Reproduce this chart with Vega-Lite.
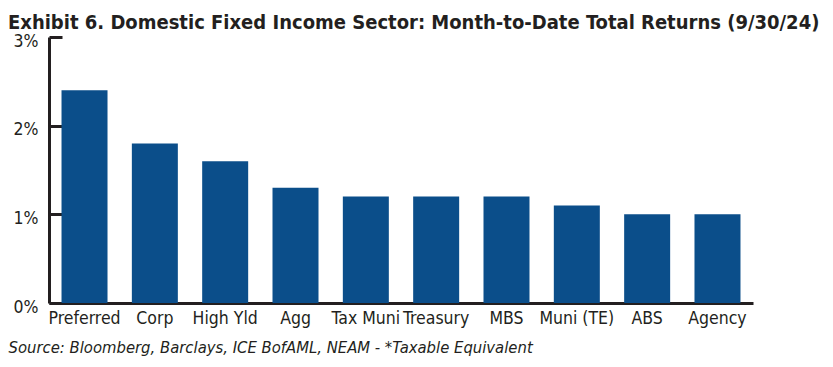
{
  "$schema": "https://vega.github.io/schema/vega-lite/v6.json",
  "autosize": {"type": "none"},
  "padding": {"left": 49, "top": 37, "right": 80, "bottom": 64},
  "width": 704,
  "height": 266,
  "background": "white",
  "title": {
    "text": "Exhibit 6. Domestic Fixed Income Sector: Month-to-Date Total Returns (9/30/24)",
    "anchor": "start",
    "frame": "group",
    "dx": -41,
    "dy": 17,
    "baseline": "alphabetic",
    "offset": 0,
    "font": "DejaVu Sans Condensed, sans-serif",
    "fontSize": 20,
    "fontWeight": "bold",
    "color": "#231f20"
  },
  "data": {
    "values": [
      {"sector": "Preferred", "ret": 2.4},
      {"sector": "Corp", "ret": 1.8},
      {"sector": "High Yld", "ret": 1.6},
      {"sector": "Agg", "ret": 1.3},
      {"sector": "Tax Muni", "ret": 1.2},
      {"sector": "Treasury", "ret": 1.2},
      {"sector": "MBS", "ret": 1.2},
      {"sector": "Muni (TE)", "ret": 1.1},
      {"sector": "ABS", "ret": 1.0},
      {"sector": "Agency", "ret": 1.0}
    ]
  },
  "config": {
    "view": {"stroke": null},
    "axis": {
      "labelFont": "DejaVu Sans Condensed, sans-serif",
      "labelColor": "#231f20",
      "domainColor": "#231f20",
      "tickColor": "#231f20",
      "grid": false
    }
  },
  "mark": {"type": "bar", "color": "#0b4e8a"},
  "encoding": {
    "x": {
      "field": "sector",
      "type": "nominal",
      "sort": null,
      "scale": {"paddingInner": 0.346, "paddingOuter": 0.178},
      "axis": {
        "labelAngle": 0,
        "labelFontSize": 17.5,
        "labelPadding": 6,
        "ticks": false,
        "domainWidth": 3,
        "title": "Source: Bloomberg, Barclays, ICE BofAML, NEAM - *Taxable Equivalent",
        "titleFont": "DejaVu Sans Condensed, sans-serif",
        "titleFontStyle": "italic",
        "titleFontWeight": "normal",
        "titleFontSize": 16.5,
        "titleColor": "#231f20",
        "titleAnchor": "start",
        "titleAlign": "left",
        "titleBaseline": "alphabetic",
        "titleX": -41,
        "titleY": 49
      }
    },
    "y": {
      "field": "ret",
      "type": "quantitative",
      "scale": {"domain": [0, 3], "nice": false},
      "axis": {
        "title": null,
        "values": [0, 1, 2, 3],
        "labelExpr": "datum.value + '%'",
        "labelFontSize": 17.5,
        "labelOffset": 4,
        "tickSize": -13,
        "tickWidth": 3,
        "labelPadding": 24,
        "domainWidth": 3
      }
    }
  }
}
